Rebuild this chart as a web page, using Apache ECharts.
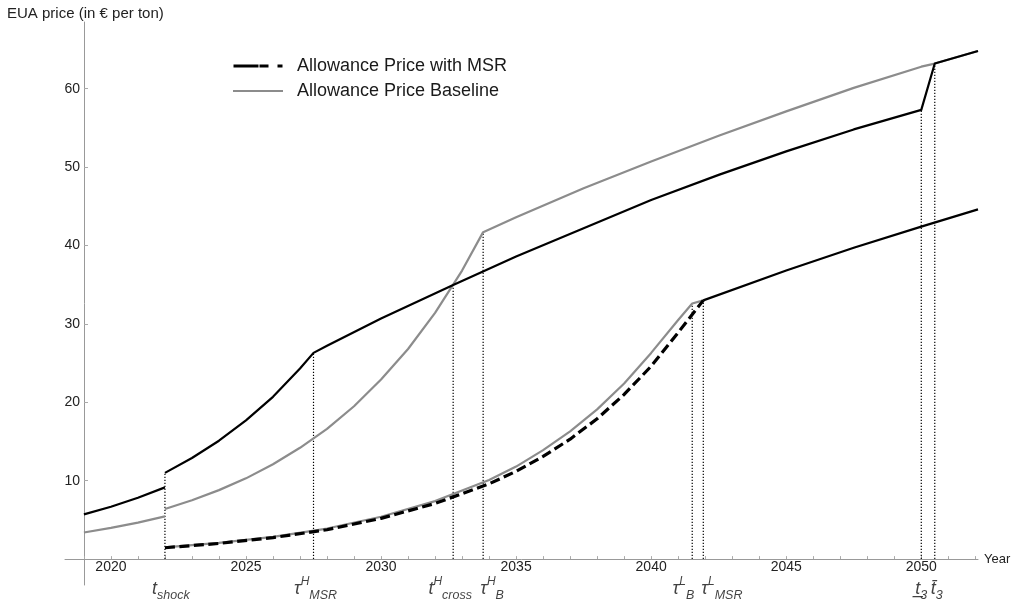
<!DOCTYPE html>
<html>
<head>
<meta charset="utf-8">
<script src="https://cdn.jsdelivr.net/npm/echarts@6/dist/echarts.min.js"></script>
<style>
  html, body { margin: 0; padding: 0; background: #fff; }
  #chart { width: 1024px; height: 609px; }
</style>
</head>
<body>
<div id="chart"></div>
<script>
// EUA allowance price paths (€ per ton), with and without the MSR
const preYears = [2019, 2020, 2021, 2022];
const msrPre   = [5.7, 6.68, 7.82, 9.15];
const basePre  = [3.4, 3.98, 4.66, 5.45];

// high path after the shock, with MSR
const msrHighYears = [2022, 2023, 2024, 2025, 2026, 2027, 2027.5, 2028, 2030, 2032.67, 2035, 2037.5, 2040, 2042.5, 2045, 2047.5, 2050, 2050.5, 2052.1];
const msrHigh      = [11.0, 12.9, 15.1, 17.7, 20.7, 24.3, 26.3, 27.2, 30.7, 34.95, 38.6, 42.2, 45.8, 49.0, 52.0, 54.8, 57.3, 63.2, 64.8];

// high path after the shock, baseline
const baseHighYears = [2022, 2023, 2024, 2025, 2026, 2027, 2028, 2029, 2030, 2031, 2032, 2033, 2033.78, 2035, 2037.5, 2040, 2042.5, 2045, 2047.5, 2050, 2050.5, 2052.1];
const baseHigh      = [6.4, 7.5, 8.8, 10.3, 12.1, 14.2, 16.6, 19.5, 22.9, 26.8, 31.4, 36.8, 41.7, 43.6, 47.3, 50.7, 54.0, 57.1, 60.1, 62.8, 63.2, 64.8];

// low path after the shock, with MSR (dashed part, then solid)
const msrLowYears = [2022, 2024, 2026, 2028, 2030, 2032, 2034, 2035, 2036, 2037, 2038, 2039, 2040, 2041, 2041.93];
const msrLow      = [1.45, 2.0, 2.75, 3.75, 5.2, 7.1, 9.6, 11.2, 13.1, 15.3, 17.9, 21.0, 24.6, 28.9, 33.0];
const msrLowLateYears = [2041.93, 2045, 2047.5, 2050, 2052.1];
const msrLowLate      = [33.0, 36.8, 39.7, 42.4, 44.6];

// low path after the shock, baseline
const baseLowYears = [2022, 2024, 2026, 2028, 2030, 2032, 2034, 2035, 2036, 2037, 2038, 2039, 2040, 2041, 2041.52, 2041.93];
const baseLow      = [1.5, 2.07, 2.84, 3.9, 5.4, 7.4, 10.1, 11.8, 13.9, 16.3, 19.1, 22.4, 26.3, 30.5, 32.6, 33.0];

// marked dates and the price level reached there
const eventYears  = [2022, 2027.5, 2032.67, 2033.78, 2041.52, 2041.93, 2050, 2050.5];
const eventTops   = [11.0, 26.3, 34.95, 41.7, 32.6, 33.0, 57.3, 63.2];
const eventBase   = ['t', 'τ', 't', 'τ', 'τ', 'τ', 't\u0332', 't\u0304'];
const eventSup    = ['', 'H', 'H', 'H', 'L', 'L', '', ''];
const eventSub    = ['shock', 'MSR', 'cross', 'B', 'B', 'MSR', '3', '3'];

const xTickLabels = [2020, 2025, 2030, 2035, 2040, 2045, 2050];
const yTickLabels = [10, 20, 30, 40, 50, 60];

const NAME_MSR = 'Allowance Price with MSR';
const NAME_BASE = 'Allowance Price Baseline';
const FONT = 'Liberation Sans, Arial, sans-serif';
const BLACK = '#000000';
const GREY = '#8c8c8c';

const zip = (xs, ys) => xs.map((x, i) => [x, ys[i]]);

function pathSeries(name, xs, ys, color, width, dash, z) {
  return {
    type: 'line', name, data: zip(xs, ys),
    symbol: 'none', showSymbol: false, smooth: false, silent: true, z,
    lineStyle: { color, width, type: dash || 'solid', cap: 'butt', join: 'round' },
    itemStyle: { color },
    emphasis: { disabled: true }
  };
}

const yearTicks = [];
for (let y = 2019; y <= 2052; y++) yearTicks.push(y);

// label placement under the axis (alignment and small horizontal nudges)
const labelAlign = ['center', 'center', 'center', 'left', 'right', 'left', 'center', 'center'];
const labelNudge = [6, 2, -3, -3, 2, -2, 0, 2];

const series = [
  pathSeries(NAME_BASE, preYears, basePre, GREY, 2.2, null, 2),
  pathSeries(NAME_BASE, baseHighYears, baseHigh, GREY, 2.2, null, 2),
  pathSeries(NAME_BASE, baseLowYears, baseLow, GREY, 2.2, null, 2),
  pathSeries(NAME_MSR, preYears, msrPre, BLACK, 2.2, null, 3),
  pathSeries(NAME_MSR, msrHighYears, msrHigh, BLACK, 2.2, null, 3),
  pathSeries(NAME_MSR, msrLowYears, msrLow, BLACK, 3.2, [10, 4.5], 3),
  pathSeries(NAME_MSR, msrLowLateYears, msrLowLate, BLACK, 2.2, null, 3)
];

// dotted drop lines from the axis up to each marked date
eventYears.forEach((x, i) => {
  series.push({
    type: 'line', name: 'drop' + i, data: [[x, 0], [x, eventTops[i]]],
    symbol: 'none', silent: true, z: 1,
    lineStyle: { color: BLACK, width: 1.2, type: [1.4, 1.6] },
    emphasis: { disabled: true }
  });
});

// date labels under the axis
series.push({
  type: 'scatter', name: 'dates', silent: true, z: 5,
  symbolSize: 0, itemStyle: { color: 'transparent' },
  data: eventYears.map((x, i) => ({
    value: [x, 0],
    label: { align: labelAlign[i], offset: [labelNudge[i], 0] }
  })),
  label: {
    show: true, position: 'bottom', distance: 17,
    formatter: p => {
      const i = p.dataIndex;
      let s = '{b|' + eventBase[i] + '}';
      if (eventSup[i]) s += '{sup|' + eventSup[i] + '}';
      s += '{sub|' + eventSub[i] + '}';
      return s;
    },
    rich: {
      b:   { fontFamily: FONT, fontStyle: 'italic', fontSize: 18, color: '#111', lineHeight: 26, verticalAlign: 'middle' },
      sup: { fontFamily: FONT, fontStyle: 'italic', fontSize: 12, color: '#111', lineHeight: 13, verticalAlign: 'top' },
      sub: { fontFamily: FONT, fontStyle: 'italic', fontSize: 12.5, color: '#111', lineHeight: 12, verticalAlign: 'bottom' }
    }
  },
  emphasis: { disabled: true }
});

const chart = echarts.init(document.getElementById('chart'), null, { renderer: 'canvas' });
chart.setOption({
  animation: false,
  backgroundColor: '#ffffff',
  title: {
    text: 'EUA price (in € per ton)', left: 2, top: 1,
    textStyle: { fontFamily: FONT, fontSize: 15, fontWeight: 'normal', color: '#222' }
  },
  legend: {
    orient: 'vertical', left: 228, top: 52, itemGap: 7,
    itemWidth: 50, itemHeight: 3, selectedMode: false,
    textStyle: { fontFamily: FONT, fontSize: 18, color: '#1a1a1a', lineHeight: 18, padding: [0, 0, 0, 9] },
    data: [
      { name: NAME_MSR, icon: 'path://M0 0H25V3H0Z M26 0H35V3H26Z M44 0H49V3H44Z' },
      { name: NAME_BASE, icon: 'path://M0 0.5H49V2.5H0Z' }
    ]
  },
  grid: { left: 65, right: 46, top: 22, bottom: 24, containLabel: false, outerBoundsMode: 'none' },
  xAxis: {
    type: 'value', min: 2018.3, max: 2052.1,
    name: 'Year', nameLocation: 'end', nameGap: 6,
    nameTextStyle: { fontFamily: FONT, fontSize: 13, color: '#222' },
    axisLine: { onZero: true, lineStyle: { color: '#999', width: 1 } },
    axisTick: { show: true, inside: true, length: 3, customValues: yearTicks, lineStyle: { color: '#aaa' } },
    axisLabel: {
      customValues: xTickLabels, fontFamily: FONT, fontSize: 14, color: '#222', margin: -25,
      formatter: v => String(v)
    },
    splitLine: { show: false }
  },
  yAxis: {
    type: 'value', min: -3.3, max: 68.5, offset: -19,
    axisLine: { show: true, lineStyle: { color: '#999', width: 1 } },
    axisTick: { show: true, inside: true, length: 4, customValues: yTickLabels, lineStyle: { color: '#aaa' } },
    axisLabel: { customValues: yTickLabels, fontFamily: FONT, fontSize: 14, color: '#222', margin: 4 },
    splitLine: { show: false }
  },
  series
});
</script>
</body>
</html>
